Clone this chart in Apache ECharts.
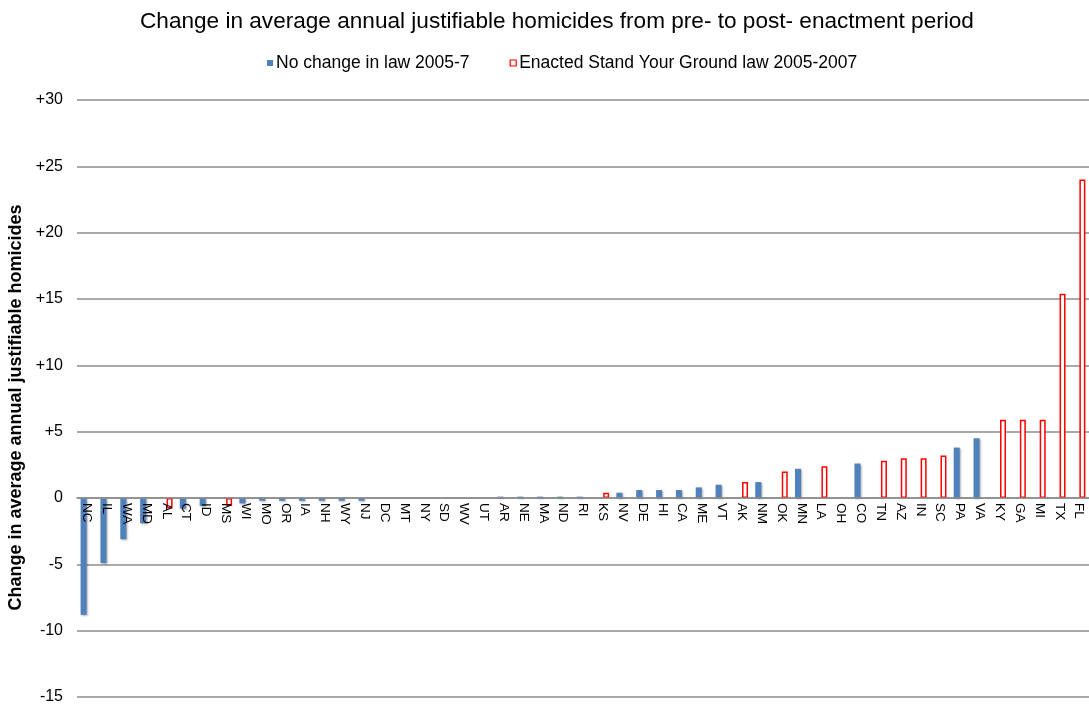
<!DOCTYPE html>
<html>
<head>
<meta charset="utf-8">
<script src="https://cdn.jsdelivr.net/npm/echarts@6/dist/echarts.min.js"></script>
<style>
html,body{margin:0;padding:0;background:#fff;}
#chart{width:1089px;height:710px;}
</style>
</head>
<body>
<div id="chart"></div>
<script>
const titleText = 'Change in average annual justifiable homicides from pre- to post- enactment period';
const yAxisTitle = 'Change in average annual justifiable homicides';
const seriesNames = ['No change in law 2005-7', 'Enacted Stand Your Ground law 2005-2007'];

const states = ['NC','IL','WA','MD','AL','CT','ID','MS','WI','MO','OR','IA','NH','WY','NJ','DC','MT','NY','SD','WV','UT','AR','NE','MA','ND','RI','KS','NV','DE','HI','CA','ME','VT','AK','NM','OK','MN','LA','OH','CO','TN','AZ','IN','SC','PA','VA','KY','GA','MI','TX','FL'];

const noChangeValues = [-8.8,-4.9,-3.1,-1.9,null,-0.8,-0.6,null,-0.4,-0.2,-0.2,-0.2,-0.2,-0.2,-0.2,0,0,0,0,0,0,0.1,0.1,0.1,0.1,0.1,null,0.4,0.6,0.6,0.6,0.8,1.0,null,1.2,null,2.2,null,0,2.6,null,null,null,null,3.8,4.5,null,null,null,null,null];

const sygValues = [null,null,null,null,-0.8,null,null,-0.6,null,null,null,null,null,null,null,null,null,null,null,null,null,null,null,null,null,null,0.4,null,null,null,null,null,null,1.2,null,2.0,null,2.4,null,null,2.8,3.0,3.0,3.2,null,null,5.9,5.9,5.9,15.4,24.0];

const yMin = -15, yMax = 30, yStep = 5;

const gridTop = 100, gridBottomPx = 697, chartH = 710;
const zeroOffset = -(gridBottomPx - (gridTop + (gridBottomPx - gridTop) * yMax / (yMax - yMin)));

const chart = echarts.init(document.getElementById('chart'), null, {renderer: 'canvas'});
chart.setOption({
  animation: false,
  backgroundColor: '#fff',
  textStyle: {fontFamily: 'Liberation Sans, Arial, sans-serif'},
  title: {
    text: titleText,
    left: 135, top: 5,
    textStyle: {fontSize: 22.6, fontWeight: 'normal', color: '#000', fontFamily: 'Liberation Sans, Arial, sans-serif'}
  },
  legend: {
    left: 262, top: 49,
    itemWidth: 6, itemHeight: 6, itemGap: 40,
    textStyle: {fontSize: 17.5, color: '#000', padding: [0,0,0,-2]},
    data: [
      {name: seriesNames[0], icon: 'rect', itemStyle: {color: '#4F81BD', borderWidth: 0}},
      {name: seriesNames[1], icon: 'rect', itemStyle: {color: '#fff', borderColor: '#ff0000', borderWidth: 1.2}}
    ]
  },
  grid: {left: 77, right: 0, top: gridTop, bottom: chartH - gridBottomPx, containLabel: false, outerBoundsMode: 'none'},
  xAxis: {
    type: 'category',
    data: states,
    z: 10,
    offset: zeroOffset,
    axisLine: {onZero: false, lineStyle: {color: '#8c8c8c', width: 1.5}},
    axisTick: {show: false},
    axisLabel: {rotate: -90, margin: 5, fontSize: 13.5, color: '#000', interval: 0}
  },
  yAxis: {
    type: 'value',
    min: yMin, max: yMax, interval: yStep,
    name: yAxisTitle,
    nameLocation: 'middle',
    nameGap: 49,
    nameTextStyle: {fontSize: 18, fontWeight: 'bold', color: '#000', padding: [0, 18, 0, 0]},
    axisLine: {show: false},
    axisTick: {show: false},
    axisLabel: {
      fontSize: 16, color: '#000', margin: 14,
      formatter: v => (v > 0 ? '+' + v : String(v))
    },
    splitLine: {lineStyle: {color: '#8c8c8c', width: 1.5}}
  },
  series: [
    {
      name: seriesNames[0],
      type: 'bar',
      data: noChangeValues,
      barWidth: 6,
      barGap: '10%',
      itemStyle: {color: '#4F81BD', shadowColor: 'rgba(0,0,0,0.35)', shadowBlur: 2, shadowOffsetX: 1, shadowOffsetY: 1}
    },
    {
      name: seriesNames[1],
      type: 'bar',
      data: sygValues,
      barWidth: 6,
      barGap: '10%',
      itemStyle: {color: '#fff', borderColor: '#ff0000', borderWidth: 1.5}
    }
  ]
});
</script>
</body>
</html>
